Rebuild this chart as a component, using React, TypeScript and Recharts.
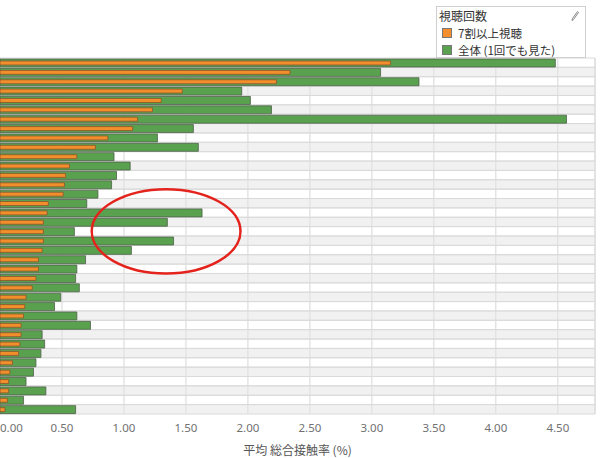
import React from 'react'
import { BarChart, Bar, XAxis, YAxis, CartesianGrid, ReferenceArea, Legend } from 'recharts'

// row ids (the category names are cut off in the source image)
const categories = [
  '1', '2', '3', '4', '5', '6', '7', '8', '9', '10',
  '11', '12', '13', '14', '15', '16', '17', '18', '19', '20',
  '21', '22', '23', '24', '25', '26', '27', '28', '29', '30',
  '31', '32', '33', '34', '35', '36', '37', '38',
]

// 全体 (1回でも見た)
const overall = [
  4.48, 3.07, 3.38, 1.95, 2.02, 2.19, 4.57, 1.56, 1.27, 1.6,
  0.92, 1.05, 0.94, 0.9, 0.79, 0.7, 1.63, 1.35, 0.6, 1.4,
  1.06, 0.69, 0.62, 0.61, 0.64, 0.49, 0.44, 0.62, 0.73, 0.34,
  0.36, 0.33, 0.29, 0.27, 0.21, 0.37, 0.19, 0.61,
]

// 7割以上視聴
const heavy = [
  3.15, 2.34, 2.23, 1.47, 1.3, 1.23, 1.11, 1.07, 0.87, 0.77,
  0.62, 0.56, 0.53, 0.52, 0.51, 0.39, 0.38, 0.35, 0.35, 0.35,
  0.34, 0.31, 0.31, 0.29, 0.26, 0.21, 0.2, 0.19, 0.17, 0.17,
  0.16, 0.15, 0.1, 0.08, 0.07, 0.07, 0.06, 0.04,
]

const xTicks = [0, 0.5, 1, 1.5, 2, 2.5, 3, 3.5, 4, 4.5]

// red circle drawn on the screenshot
const markFrom = 0.74
const markTo = 1.94
const markFirstRow = 14
const markLastRow = 22

const CJK = '"Noto Sans CJK JP", "Noto Sans", sans-serif'

const chartData = categories.map((id, i) => ({
  id,
  overall: overall[i],
  heavy: heavy[i],
}))

function XTick({ x, y, payload, index }: any) {
  return (
    <text
      x={x}
      y={y}
      dy="0.71em"
      textAnchor={index === 0 ? 'start' : 'middle'}
      fontSize={11.5}
      fill="#707070"
      fontFamily='"Noto Sans", sans-serif'
    >
      {Number(payload.value).toFixed(2)}
    </text>
  )
}

function LegendBox({ payload }: any) {
  const items = payload || []
  return (
    <div
      style={{
        width: 150,
        height: 52,
        boxSizing: 'border-box',
        border: '1px solid #d0d0d0',
        background: '#fff',
        fontFamily: CJK,
        color: '#333',
        position: 'relative',
      }}
    >
      <div style={{ fontSize: 12, lineHeight: '16px', paddingLeft: 2, paddingTop: 1 }}>視聴回数</div>
      <svg width={8} height={10} style={{ position: 'absolute', right: 6, top: 4 }}>
        <path d="M6.5 0.5 L7.5 1.5 L2.5 8.5 L1 9.5 L1.5 7.5 Z" fill="none" stroke="#777" strokeWidth={0.9} />
      </svg>
      {items.map((item: any) => (
        <div
          key={item.value}
          style={{ display: 'flex', alignItems: 'center', height: 17, paddingLeft: 5, fontSize: 11.5 }}
        >
          <span
            style={{
              display: 'inline-block',
              width: 10,
              height: 10,
              boxSizing: 'border-box',
              background: item.color,
              border: '1px solid #777',
              marginRight: 6,
            }}
          />
          {item.value}
        </div>
      ))}
    </div>
  )
}

export default function App() {
  return (
    <div style={{ position: 'absolute', left: 0, top: 0, width: 600, height: 458, background: '#fff', fontFamily: CJK }}>
      <BarChart
        width={600}
        height={458}
        data={chartData}
        layout="vertical"
        margin={{ top: 58, right: 5, bottom: 0, left: 0 }}
        barCategoryGap={0}
      >
        <CartesianGrid yAxisId="g" horizontal={false} stroke="#d6d6d6" />
        <XAxis
          type="number"
          domain={[0, 4.8]}
          ticks={xTicks}
          interval={0}
          axisLine={false}
          tickLine={false}
          tickMargin={4}
          height={44}
          tick={XTick}
          label={{ value: '平均 総合接触率 (%)', position: 'insideBottom', offset: 3, fontSize: 12, fill: '#555', fontFamily: CJK }}
        />
        <YAxis yAxisId="g" type="category" dataKey="id" hide width={0} />
        <YAxis yAxisId="o" type="category" dataKey="id" hide width={0} />
        {categories.map((id, i) => (
          <ReferenceArea
            key={id}
            yAxisId="g"
            y1={id}
            y2={id}
            fill={i % 2 ? '#e4e4e4' : '#ffffff'}
            fillOpacity={i % 2 ? 0.5 : 0}
            stroke="#dadada"
            strokeWidth={1}
            ifOverflow="visible"
          />
        ))}
        <Bar
          yAxisId="g"
          dataKey="overall"
          name="全体 (1回でも見た)"
          fill="#59a14f"
          stroke="#4f5f4a"
          strokeWidth={0.8}
          barSize={8}
          isAnimationActive={false}
        />
        <Bar
          yAxisId="o"
          dataKey="heavy"
          name="7割以上視聴"
          fill="#f28e2b"
          stroke="#8a5530"
          strokeWidth={0.8}
          barSize={4}
          isAnimationActive={false}
        />
        <ReferenceArea
          yAxisId="g"
          x1={markFrom}
          x2={markTo}
          y1={categories[markFirstRow]}
          y2={categories[markLastRow]}
          ifOverflow="visible"
          zIndex={2000}
          shape={(p: any) => (
            <ellipse
              cx={p.x + p.width / 2}
              cy={p.y + p.height / 2}
              rx={p.width / 2}
              ry={p.height / 2}
              fill="none"
              stroke="#e3231c"
              strokeWidth={2.5}
            />
          )}
        />
        <Legend
          layout="vertical"
          align="center"
          verticalAlign="middle"
          wrapperStyle={{ top: 6, left: 436, width: 150, height: 52 }}
          content={LegendBox}
        />
      </BarChart>
    </div>
  )
}
